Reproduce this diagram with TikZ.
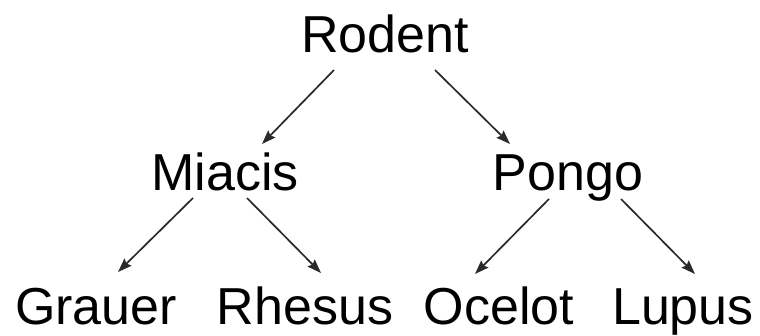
\documentclass[tikz,border=0pt]{standalone}
\usepackage{fontspec}
\setmainfont{Liberation Sans}
\usetikzlibrary{arrows.meta}
\definecolor{edgegray}{HTML}{2A2A2A}
\begin{document}
\begin{tikzpicture}[x=1pt,y=-1pt,
  taxon/.style={anchor=base,inner sep=0pt,font=\fontsize{52}{60}\selectfont},
  link/.style={draw=edgegray,line width=1.7pt,
    -{Stealth[length=14pt,width=10pt,inset=2pt]}}]
\useasboundingbox (0,0) rectangle (760,336);
% taxa, placed by baseline
\node[taxon] (rodent) at (385,53) {Rodent};
\node[taxon] (miacis) at (225,191) {Miacis};
\node[taxon] (pongo)  at (568,191) {Pongo};
\node[taxon] (grauer) at (96,325)  {Grauer};
\node[taxon] (rhesus) at (305,325) {Rhesus};
\node[taxon] (ocelot) at (499,325) {Ocelot};
\node[taxon] (lupus)  at (683,325) {Lupus};
% tree edges
\draw[link] ([xshift=-51pt,yshift=-17pt]rodent.base) -- ([xshift=37pt,yshift=47pt]miacis.base);
\draw[link] ([xshift=50pt,yshift=-17pt]rodent.base) -- ([xshift=-58pt,yshift=47pt]pongo.base);
\draw[link] ([xshift=-32pt,yshift=-7pt]miacis.base) -- ([xshift=22pt,yshift=53pt]grauer.base);
\draw[link] ([xshift=22pt,yshift=-7pt]miacis.base) -- ([xshift=16pt,yshift=52pt]rhesus.base);
\draw[link] ([xshift=-19pt,yshift=-8pt]pongo.base) -- ([xshift=-24pt,yshift=51pt]ocelot.base);
\draw[link] ([xshift=53pt,yshift=-8pt]pongo.base) -- ([xshift=12pt,yshift=51pt]lupus.base);
\end{tikzpicture}
\end{document}
